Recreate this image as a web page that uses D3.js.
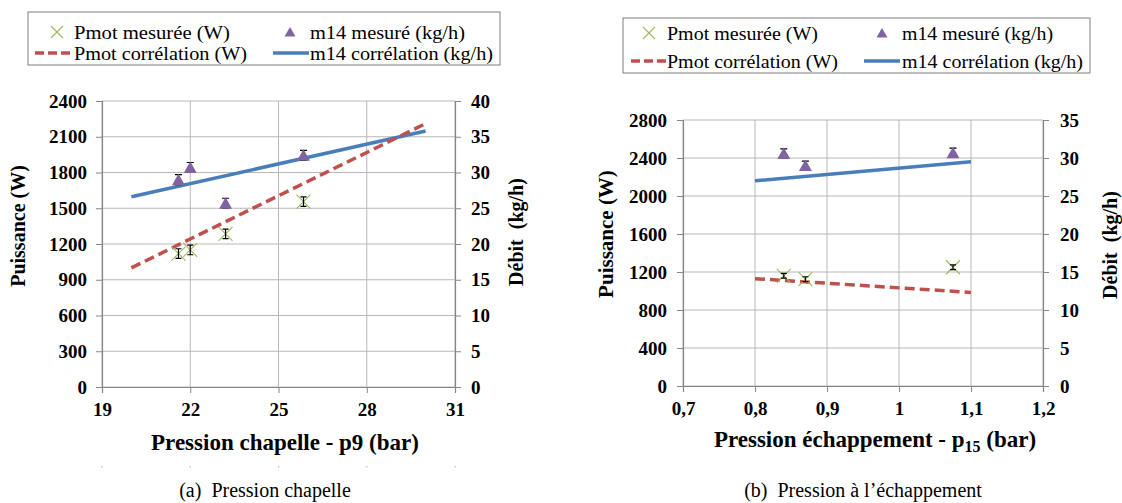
<!DOCTYPE html>
<html>
<head>
<meta charset="utf-8">
<script src="https://cdn.jsdelivr.net/npm/d3@7"></script>
<style>
  html, body { margin: 0; padding: 0; background: #fff; }
  svg { display: block; }
  text { font-family: "Liberation Serif", "Times New Roman", serif; fill: #000; }
</style>
</head>
<body>
<svg id="chart" width="1122" height="503"></svg>
<script>
// ---------- DATA ----------
// (a) Pression chapelle
const xTicksA = [19, 22, 25, 28, 31];
const yTicksLeftA = [0, 300, 600, 900, 1200, 1500, 1800, 2100, 2400];
const yTicksRightA = [0, 5, 10, 15, 20, 25, 30, 35, 40];
const p9Measured = [21.6, 22.0, 23.2, 25.85];
const pmotMeasuredA = [1120, 1150, 1285, 1555];
const pmotErrA = [40, 40, 40, 40];
const m14MeasuredA = [29.0, 30.7, 25.7, 32.4];
const m14ErrA = [0.7, 0.7, 0.7, 0.7];
const p9Corr = [20, 30];
const pmotCorrA = [1000, 2210];
const m14CorrA = [26.6, 35.8];

// (b) Pression à l'échappement
const xTicksB = [0.7, 0.8, 0.9, 1, 1.1, 1.2];
const yTicksLeftB = [0, 400, 800, 1200, 1600, 2000, 2400, 2800];
const yTicksRightB = [0, 5, 10, 15, 20, 25, 30, 35];
const p15Measured = [0.84, 0.87, 1.075];
const pmotMeasuredB = [1160, 1125, 1250];
const pmotErrB = [25, 25, 25];
const m14MeasuredB = [30.6, 29.0, 30.7];
const m14ErrB = [0.6, 0.6, 0.6];
const p15Corr = [0.8, 1.1];
const pmotCorrB = [1130, 985];
const m14CorrB = [27.0, 29.5];

const legendLabels = ["Pmot mesurée (W)", "m14 mesuré (kg/h)", "Pmot corrélation (W)", "m14 corrélation (kg/h)"];

// ---------- STYLE ----------
const C = { blue: "#4A7EBB", red: "#C0504D", purple: "#8064A2", green: "#9BBB59", grid: "#B8B8B8", axis: "#868686" };

const svg = d3.select("#chart");

function drawChart(cfg) {
  const g = svg.append("g");
  const x = d3.scaleLinear().domain(cfg.xDomain).range([cfg.left, cfg.right]);
  const yL = d3.scaleLinear().domain(cfg.yLDomain).range([cfg.bottom, cfg.top]);
  const yR = d3.scaleLinear().domain(cfg.yRDomain).range([cfg.bottom, cfg.top]);
  const fmt = d => String(d).replace(".", ",");

  // grid
  g.append("g").selectAll("line").data(cfg.yLTicks).join("line")
    .attr("x1", cfg.left).attr("x2", cfg.right)
    .attr("y1", d => yL(d)).attr("y2", d => yL(d))
    .attr("stroke", C.grid).attr("stroke-width", 1);
  g.append("g").selectAll("line").data(cfg.xTicks).join("line")
    .attr("x1", d => x(d)).attr("x2", d => x(d))
    .attr("y1", cfg.top).attr("y2", cfg.bottom)
    .attr("stroke", C.grid).attr("stroke-width", 1);

  // axes
  const axL = g.append("g").attr("transform", `translate(${cfg.left},0)`)
    .call(d3.axisLeft(yL).tickValues(cfg.yLTicks).tickSize(6).tickPadding(cfg.padL).tickFormat(fmt));
  const axR = g.append("g").attr("transform", `translate(${cfg.right},0)`)
    .call(d3.axisRight(yR).tickValues(cfg.yRTicks).tickSize(6).tickPadding(cfg.padR).tickFormat(fmt));
  const axB = g.append("g").attr("transform", `translate(0,${cfg.bottom})`)
    .call(d3.axisBottom(x).tickValues(cfg.xTicks).tickSize(6).tickPadding(10).tickFormat(fmt));
  [axL, axR, axB].forEach(a => {
    a.attr("font-family", null);
    a.select(".domain").attr("stroke", C.axis).attr("stroke-width", 1.2);
    a.selectAll(".tick line").attr("stroke", C.axis);
    a.selectAll("text").attr("font-weight", "bold")
      .attr("font-size", 19).attr("fill", "#000");
  });

  // correlation lines
  const lineL = d3.line().x((d, i) => x(cfg.corrX[i])).y(d => yL(d));
  const lineR = d3.line().x((d, i) => x(cfg.corrX[i])).y(d => yR(d));
  g.append("path").datum(cfg.m14Corr).attr("d", lineR)
    .attr("fill", "none").attr("stroke", C.blue).attr("stroke-width", 3.5);
  g.append("path").datum(cfg.pmotCorr).attr("d", lineL)
    .attr("fill", "none").attr("stroke", C.red).attr("stroke-width", 3.5)
    .attr("stroke-dasharray", "10,5");

  // Pmot measured: X markers with error bars
  const pm = g.append("g").selectAll("g").data(cfg.pmot.map((v, i) => ({ x: cfg.mx[i], y: v, e: cfg.pmotErr[i] }))).join("g");
  pm.append("path")
    .attr("d", d => { const cx = x(d.x), cy = yL(d.y), s = 7; return `M${cx - s},${cy - s}L${cx + s},${cy + s}M${cx - s},${cy + s}L${cx + s},${cy - s}`; })
    .attr("stroke", C.green).attr("stroke-width", 1.1).attr("fill", "none");
  pm.append("path")
    .attr("d", d => { const cx = x(d.x), t = yL(d.y + d.e), b = yL(d.y - d.e); return `M${cx},${t}L${cx},${b}M${cx - 3},${t}L${cx + 3},${t}M${cx - 3},${b}L${cx + 3},${b}`; })
    .attr("stroke", "#000").attr("stroke-width", 1.2).attr("fill", "none");

  // m14 measured: triangles with error bars
  const tm = g.append("g").selectAll("g").data(cfg.m14.map((v, i) => ({ x: cfg.mx[i], y: v, e: cfg.m14Err[i] }))).join("g");
  tm.append("path")
    .attr("d", d => { const cx = x(d.x), t = yR(d.y + d.e), b = yR(d.y - d.e); return `M${cx},${t}L${cx},${b}M${cx - 3.5},${t}L${cx + 3.5},${t}M${cx - 3.5},${b}L${cx + 3.5},${b}`; })
    .attr("stroke", "#000").attr("stroke-width", 1.2).attr("fill", "none");
  tm.append("path")
    .attr("d", d => { const cx = x(d.x), cy = yR(d.y); return `M${cx},${cy - 6}L${cx + 6.5},${cy + 5.5}L${cx - 6.5},${cy + 5.5}Z`; })
    .attr("fill", C.purple);

  // axis titles
  g.append("text").attr("transform", `translate(${cfg.yLTitleX},${cfg.yLTitleY}) rotate(-90)`)
    .attr("text-anchor", "middle").attr("dominant-baseline", "middle")
    .attr("font-weight", "bold").attr("font-size", cfg.yLTitleSize).text("Puissance (W)");
  g.append("text").attr("transform", `translate(${cfg.yRTitleX},${cfg.yRTitleY}) rotate(-90)`)
    .attr("text-anchor", "middle").attr("dominant-baseline", "middle")
    .attr("font-weight", "bold").attr("font-size", 20).attr("xml:space", "preserve").text("Débit  (kg/h)");
  const xt = g.append("text").attr("x", cfg.xTitleX).attr("y", cfg.xTitleY)
    .attr("text-anchor", "middle").attr("font-weight", "bold").attr("font-size", 23);
  cfg.xTitle(xt);

  // caption
  g.append("text").attr("x", cfg.capX).attr("y", cfg.capY).attr("text-anchor", "middle")
    .attr("font-size", 20).attr("xml:space", "preserve").text(cfg.caption);

  // legend
  const L = cfg.legend;
  g.append("rect").attr("x", L.x).attr("y", L.y).attr("width", L.w).attr("height", L.h)
    .attr("fill", "#fff").attr("stroke", "#7f7f7f").attr("stroke-width", 1);
  const lg = g.append("g").attr("font-size", 19.5);
  const ltext = (xx, yy, s, w) => lg.append("text").attr("x", xx).attr("y", yy)
    .attr("dominant-baseline", "central").attr("textLength", w)
    .attr("lengthAdjust", "spacingAndGlyphs").text(s);
  // X marker
  lg.append("path").attr("d", `M${L.m1x - 6},${L.r1 - 6}L${L.m1x + 6},${L.r1 + 6}M${L.m1x - 6},${L.r1 + 6}L${L.m1x + 6},${L.r1 - 6}`)
    .attr("stroke", C.green).attr("stroke-width", 1.1);
  ltext(L.t1x, L.r1, legendLabels[0], L.tw[0]);
  lg.append("path").attr("d", `M${L.m2x},${L.r1 - 5}L${L.m2x + 5.5},${L.r1 + 4.5}L${L.m2x - 5.5},${L.r1 + 4.5}Z`).attr("fill", C.purple);
  ltext(L.t2x, L.r1, legendLabels[1], L.tw[1]);
  lg.append("line").attr("x1", L.l1a).attr("x2", L.l1b).attr("y1", L.r2).attr("y2", L.r2)
    .attr("stroke", C.red).attr("stroke-width", 3.5).attr("stroke-dasharray", "9,4");
  ltext(L.t1x, L.r2, legendLabels[2], L.tw[2]);
  lg.append("line").attr("x1", L.l2a).attr("x2", L.l2b).attr("y1", L.r2).attr("y2", L.r2)
    .attr("stroke", C.blue).attr("stroke-width", 3.5);
  ltext(L.t2x, L.r2, legendLabels[3], L.tw[3]);

  // faint marks under x ticks
  if (cfg.dots) {
    g.append("g").selectAll("rect").data(cfg.xTicks).join("rect")
      .attr("x", d => x(d) - 0.5).attr("y", cfg.dots).attr("width", 1.2).attr("height", 1.5).attr("fill", "#bbb");
  }
}

drawChart({
  xDomain: [19, 31], yLDomain: [0, 2400], yRDomain: [0, 40],
  left: 102, right: 455, top: 101, bottom: 387,
  xTicks: xTicksA, yLTicks: yTicksLeftA, yRTicks: yTicksRightA,
  padL: 9, padR: 10,
  mx: p9Measured, pmot: pmotMeasuredA, pmotErr: pmotErrA, m14: m14MeasuredA, m14Err: m14ErrA,
  corrX: p9Corr, pmotCorr: pmotCorrA, m14Corr: m14CorrA,
  yLTitleX: 20, yLTitleY: 226, yLTitleSize: 20,
  yRTitleX: 518, yRTitleY: 232,
  xTitleX: 285, xTitleY: 450,
  xTitle: t => t.text("Pression chapelle - p9 (bar)"),
  capX: 265, capY: 497, caption: "(a)  Pression chapelle",
  legend: { x: 28, y: 12, w: 472, h: 53, r1: 32, r2: 53, m1x: 57, t1x: 74, m2x: 290, t2x: 310, l1a: 35, l1b: 72, l2a: 273, l2b: 309,
            tw: [156, 155, 173, 183] },
  dots: 466
});

drawChart({
  xDomain: [0.7, 1.2], yLDomain: [0, 2800], yRDomain: [0, 35],
  left: 683, right: 1043, top: 120, bottom: 386,
  xTicks: xTicksB, yLTicks: yTicksLeftB, yRTicks: yTicksRightB,
  padL: 10, padR: 11,
  mx: p15Measured, pmot: pmotMeasuredB, pmotErr: pmotErrB, m14: m14MeasuredB, m14Err: m14ErrB,
  corrX: p15Corr, pmotCorr: pmotCorrB, m14Corr: m14CorrB,
  yLTitleX: 608, yLTitleY: 234, yLTitleSize: 21,
  yRTitleX: 1112, yRTitleY: 245,
  xTitleX: 875, xTitleY: 447,
  xTitle: t => {
    t.append("tspan").text("Pression échappement - p");
    t.append("tspan").attr("font-size", 16).attr("dy", 5).text("15");
    t.append("tspan").attr("dy", -5).text(" (bar)");
  },
  capX: 863, capY: 497, caption: "(b)  Pression à l’échappement",
  legend: { x: 623, y: 18, w: 467, h: 55, r1: 33, r2: 61, m1x: 649, t1x: 667, m2x: 882, t2x: 902, l1a: 631, l1b: 667, l2a: 864, l2b: 900,
            tw: [151, 151, 171, 181] },
  dots: null
});
</script>
</body>
</html>
